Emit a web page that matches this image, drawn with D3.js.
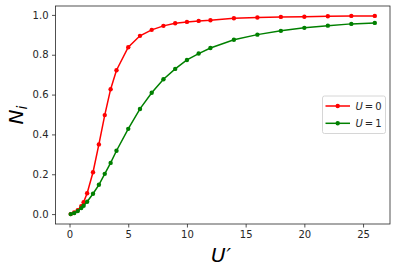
<!DOCTYPE html>
<html><head><meta charset="utf-8">
<script src="https://cdn.jsdelivr.net/npm/d3@7"></script>
<style>body{margin:0;background:#fff}svg{display:block}text{font-family:"DejaVu Sans",sans-serif}</style>
</head><body><svg id="c" width="397" height="272"></svg>
<script>
const xValues = [0.1,0.4,0.7,1.0,1.2,1.5,2.0,2.5,3.0,3.5,4.0,5,6,7,8,9,10,11,12,14,16,18,20,22,24,26];
const seriesU0 = [0,0.008,0.02,0.04,0.06,0.105,0.21,0.35,0.497,0.627,0.722,0.838,0.895,0.925,0.945,0.958,0.965,0.97,0.973,0.983,0.987,0.99,0.991,0.993,0.995,0.995];
const seriesU1 = [0,0.005,0.015,0.03,0.042,0.062,0.102,0.147,0.202,0.257,0.318,0.428,0.528,0.609,0.677,0.729,0.774,0.806,0.834,0.875,0.901,0.92,0.935,0.946,0.955,0.96];
const xTicks = [0,5,10,15,20,25];
const yTicks = [0,0.2,0.4,0.6,0.8,1.0];
const seriesNames = ["0","1"];
const seriesColors = ["#ff0000","#008000"];

const svg = d3.select("#c");
const L=55.5, R=390, T=6, B=224;
const x = d3.scaleLinear().domain([-1.195, 27.295]).range([L,R]);
const y = d3.scaleLinear().domain([-0.04975, 1.04475]).range([B,T]);

const xa = svg.append("g").attr("transform",`translate(0,${B})`)
  .call(d3.axisBottom(x).tickValues(xTicks).tickFormat(d3.format("d")).tickSize(3.5).tickPadding(3.5));
const ya = svg.append("g").attr("transform",`translate(${L},0)`)
  .call(d3.axisLeft(y).tickValues(yTicks).tickFormat(d3.format(".1f")).tickSize(3.5).tickPadding(3.5));
[xa,ya].forEach(a=>{a.select(".domain").remove();a.selectAll("text").attr("font-size",10).attr("fill","#262626").attr("font-family","DejaVu Sans");a.selectAll("line").attr("stroke","#262626").attr("stroke-width",0.8);});

svg.append("rect").attr("x",L).attr("y",T).attr("width",R-L).attr("height",B-T)
  .attr("fill","none").attr("stroke","#262626").attr("stroke-width",0.8);

const data=[seriesU0,seriesU1];
const line=d3.line().x((d,i)=>x(xValues[i])).y(d=>y(d));
data.forEach((s,k)=>{
  svg.append("path").datum(s).attr("d",line).attr("fill","none").attr("stroke",seriesColors[k]).attr("stroke-width",1.5);
  svg.append("g").selectAll("circle").data(s).join("circle")
    .attr("cx",(d,i)=>x(xValues[i])).attr("cy",d=>y(d)).attr("r",2.2).attr("fill",seriesColors[k]);
});

// axis labels
const xl=svg.append("text").attr("x",221).attr("y",262).attr("text-anchor","middle").attr("font-size",20).attr("fill","#000");
xl.append("tspan").attr("font-style","italic").text("U");
xl.append("tspan").attr("dx",1).attr("font-style","italic").text("′");
const yl=svg.append("text").attr("transform","translate(23,115) rotate(-90)").attr("text-anchor","middle").attr("font-size",20).attr("font-style","italic").attr("fill","#000");
yl.append("tspan").text("N");
yl.append("tspan").attr("font-size",14).attr("dy",4).text("i");

// legend
const lg=svg.append("g");
lg.append("rect").attr("x",322.5).attr("y",96).attr("width",63).attr("height",37.5).attr("rx",2).attr("fill","#fff").attr("fill-opacity",0.8).attr("stroke","#cccccc").attr("stroke-width",0.8);
seriesNames.forEach((n,k)=>{
  const yy=106+k*17.3;
  lg.append("line").attr("x1",325.5).attr("x2",350).attr("y1",yy).attr("y2",yy).attr("stroke",seriesColors[k]).attr("stroke-width",1.5);
  lg.append("circle").attr("cx",337.7).attr("cy",yy).attr("r",2.2).attr("fill",seriesColors[k]);
  const t=lg.append("text").attr("x",355.5).attr("y",yy+3.6).attr("font-size",10).attr("fill","#262626");
  t.append("tspan").attr("font-style","italic").text("U");
  t.append("tspan").text("\u2009=\u2009"+n);
});
</script></body></html>
